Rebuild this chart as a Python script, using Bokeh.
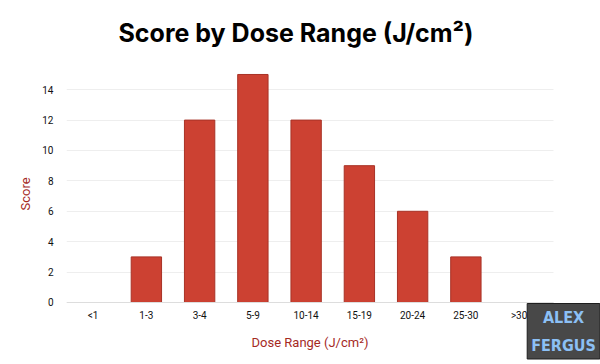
from bokeh.plotting import figure
from bokeh.models import (ColumnDataSource, Label, Range1d, FixedTicker, Title, Grid,
                          CDSView, BooleanFilter)
from bokeh.embed import file_html
from bokeh.resources import INLINE

categories = ["<1", "1-3", "3-4", "5-9", "10-14", "15-19", "20-24", "25-30", ">30"]
scores = [0, 3, 12, 15, 12, 9, 6, 3, 0]
y_ticks = [0, 2, 4, 6, 8, 10, 12, 14]

x_pos = list(range(1, len(categories) + 1))
src = ColumnDataSource(data=dict(x=x_pos, cat=categories, score=scores))
view = CDSView(filter=BooleanFilter([s > 0 for s in scores]))

Y_TOP = 15.92
X_END = len(categories) + 0.65

p = figure(x_range=Range1d(0.5, 10.528), y_range=Range1d(-4.08, Y_TOP),
           width=600, height=364,
           output_backend="svg", toolbar_location=None,
           min_border_left=66, min_border_right=0, min_border_top=60, min_border_bottom=0)

p.vbar(x="x", top="score", width=0.57, source=src, view=view,
       fill_color="#cc4132", line_color="#a83226", line_width=1)

t = Title(text="Score by Dose Range (J/cm²)", align="left",
          text_font="Inter", text_font_size="25px", text_font_style="bold",
          text_color="#000000", standoff=25, offset=52)
p.add_layout(t, "above")

p.outline_line_color = None
p.background_fill_color = None
p.border_fill_color = "white"

has_cross = "cross_bounds" in Grid.properties()

p.ygrid.grid_line_color = "#eeeeee"
p.ygrid.ticker = FixedTicker(ticks=y_ticks)
p.xgrid.ticker = FixedTicker(ticks=[0.5])
p.xgrid.grid_line_color = "#dddddd"
if has_cross:
    p.ygrid.cross_bounds = (0.5, X_END)
    p.xgrid.cross_bounds = (0, Y_TOP)
else:
    p.xgrid.grid_line_color = None

p.yaxis.ticker = FixedTicker(ticks=y_ticks)
p.xaxis.ticker = FixedTicker(ticks=x_pos)
p.xaxis.major_label_overrides = {xi: c for xi, c in zip(x_pos, categories)}
p.xaxis.fixed_location = 0
p.xaxis.bounds = (0.5, X_END)
p.yaxis.bounds = (0, Y_TOP)
p.yaxis.axis_line_color = None if has_cross else "#dddddd"
p.xaxis.axis_line_color = "#dddddd"

for ax in (p.xaxis, p.yaxis):
    ax.major_tick_line_color = None
    ax.minor_tick_line_color = None
    ax.major_tick_out = 0
    ax.major_tick_in = 0
    ax.minor_tick_out = 0
    ax.minor_tick_in = 0
    ax.major_label_text_font = "Roboto"
    ax.major_label_text_font_size = "10px"
    ax.major_label_text_color = "#111111"
    ax.axis_label_text_font = "Roboto"
    ax.axis_label_text_font_size = "13px"
    ax.axis_label_text_font_style = "normal"
    ax.axis_label_text_color = "#a52a1f"

p.xaxis.axis_label = "Dose Range (J/cm²)"
p.xaxis.major_label_standoff = 8
p.xaxis.axis_label_standoff = 10
p.yaxis.major_label_standoff = 13

ytitle = Title(text="Score", align="left", offset=154, standoff=14,
               text_font="Roboto", text_font_size="13px", text_font_style="normal",
               text_color="#a52a1f")
p.add_layout(ytitle, "left")

wm = Label(x=497, y=61, x_units="screen", y_units="screen",
           text="ALEX\nFERGUS",
           text_font="'Liberation Sans Narrow', 'DejaVu Sans Condensed', sans-serif",
           text_font_size="16px", text_font_style="bold", text_color="#8cc0f5",
           text_align="center", text_baseline="top", text_line_height=1.5,
           background_fill_color="#484848", border_line_color="#1e1e1e",
           border_line_width=1, padding=4)
p.add_layout(wm)

open("out.html", "w").write(file_html(p, INLINE))
